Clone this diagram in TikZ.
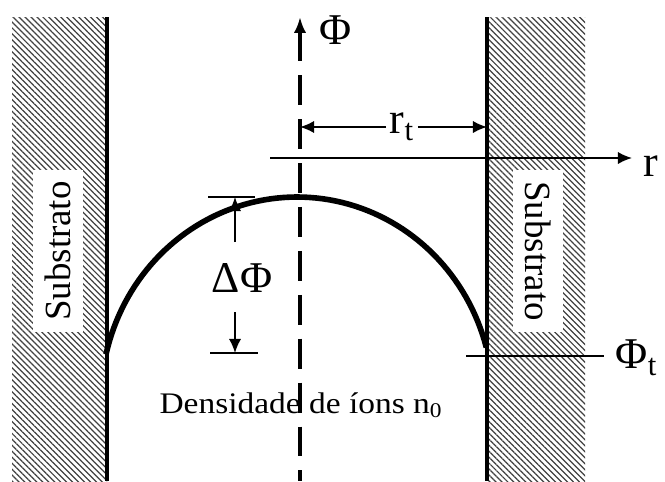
\documentclass[tikz,border=0pt]{standalone}
\usepackage{fontspec}
\setmainfont{Liberation Serif}
\newfontfamily\fontelarga{Liberation Serif}[FakeStretch=1.12]
\usepackage{tikz}
\usetikzlibrary{arrows.meta, patterns.meta, positioning}

\begin{document}
\begin{tikzpicture}[
  x=0.02cm, y=-0.02cm,
  every node/.style={font=\fontsize{25}{30}\selectfont, inner sep=2pt},
  parede/.style={line width=2.7pt},
  substrato/.style={
    pattern={Lines[angle=-45, distance=2.4pt, line width=0.7pt]},
    pattern color=black!75
  },
  rotulo/.style={
    fill=white, inner sep=0pt,
    minimum width=3.24cm, minimum height=1cm,
    font=\fontsize{21}{25}\selectfont
  },
  seta/.style={-{Latex[length=8pt, width=7pt]}, line width=1.1pt},
  marca/.style={line width=1.1pt},
  eixo/.style={line width=2pt, dash pattern=on 17pt off 8pt},
  curva/.style={line width=3.2pt}
]
  \useasboundingbox (0,0) rectangle (665,481);

  % --- Substrato (regioes hachuradas) ---
  \fill[substrato] (12,17)  rectangle (107,481);
  \fill[substrato] (487,17) rectangle (585,481);

  \node[rotulo, rotate=90]  (subEsq) at (58,251)  {Substrato};
  \node[rotulo, rotate=-90] (subDir) at (538,251) {Substrato};

  % --- Paredes ---
  \coordinate (paredeEsqTopo) at (107,17);
  \coordinate (paredeEsqBase) at (107,481);
  \coordinate (paredeDirTopo) at (487,17);
  \coordinate (paredeDirBase) at (487,481);
  \draw[parede] (paredeEsqTopo) -- (paredeEsqBase);
  \draw[parede] (paredeDirTopo) -- (paredeDirBase);

  % --- Eixo Phi (tracejado) ---
  \coordinate (eixoTopo) at (300,17);
  \coordinate (eixoBase) at (300,481);
  \draw[eixo, {Latex[length=9pt, width=7pt]}-] (eixoTopo) -- (eixoBase);
  \node (phi) at (336,30) {Φ};

  % --- Eixo r ---
  \coordinate (rIni) at (270,158);
  \coordinate (rFim) at (632,158);
  \draw[seta] (rIni) -- (rFim);
  \node (r) at (651,166) {r};

  % --- Raio r_t ---
  \node (rt) at (402,127) {r\textsubscript{t}};
  \coordinate (rtEsq) at (300,127);
  \coordinate (rtDir) at (487,127);
  \draw[seta] (rt) -- (rtEsq);
  \draw[seta] (rt) -- (rtDir);

  % --- Perfil do potencial ---
  \draw[curva] plot[domain=15:167, samples=80]
    ({297+196*cos(\x)}, {400-203*sin(\x)});

  % --- Delta Phi ---
  \coordinate (dTopoEsq) at (208,197);
  \coordinate (dTopoDir) at (255,197);
  \coordinate (dBaseEsq) at (210,353);
  \coordinate (dBaseDir) at (258,353);
  \coordinate (dTopo) at (235,197);
  \coordinate (dBase) at (235,353);
  \coordinate (dA) at (235,242);
  \coordinate (dB) at (235,312);
  \draw[marca] (dTopoEsq) -- (dTopoDir);
  \draw[marca] (dBaseEsq) -- (dBaseDir);
  \draw[seta] (dA) -- (dTopo);
  \draw[seta] (dB) -- (dBase);
  \node (dphi) at (242,278) {ΔΦ};

  % --- Phi_t na parede ---
  \coordinate (phitIni) at (466,356);
  \coordinate (phitFim) at (604,356);
  \draw[marca] (phitIni) -- (phitFim);
  \node[anchor=west] (phit) at (612,358) {Φ\textsubscript{t}};

  % --- Densidade ---
  \node[font=\fontelarga\fontsize{17}{20}\selectfont] (dens) at (301,405)
    {Densidade de íons n\textsubscript{0}};
\end{tikzpicture}
\end{document}
